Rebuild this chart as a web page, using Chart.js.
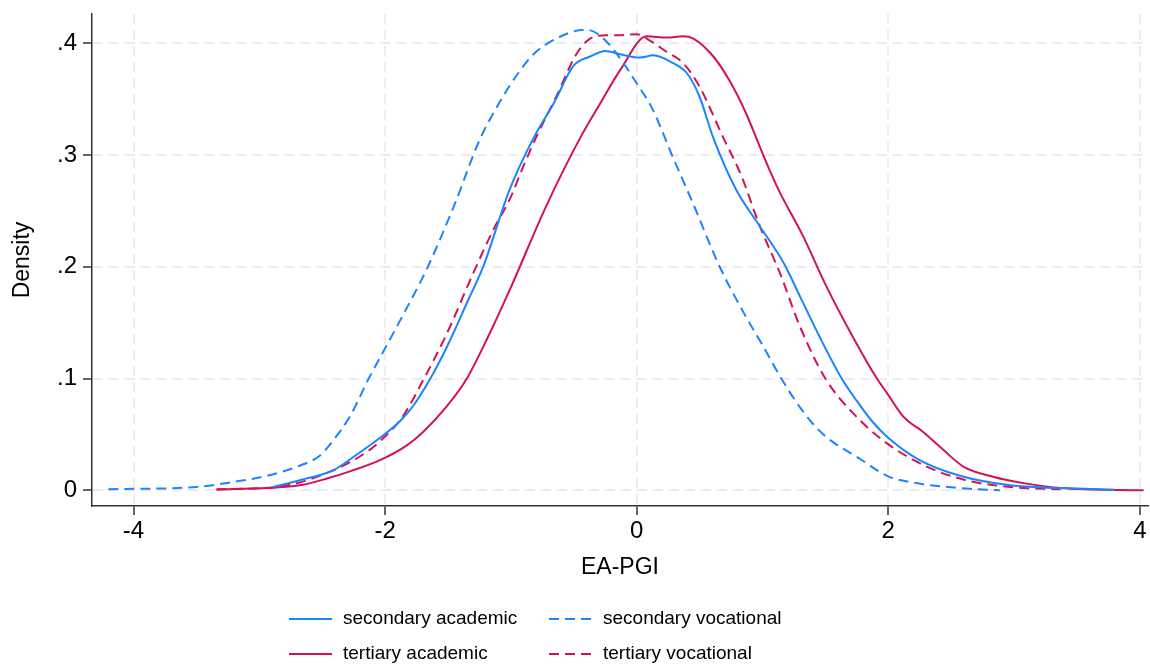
<!DOCTYPE html>
<html>
<head>
<meta charset="utf-8">
<script src="https://cdn.jsdelivr.net/npm/chart.js@4.4.1/dist/chart.umd.min.js"></script>
<style>
  html, body { margin: 0; padding: 0; background: #fff; }
</style>
</head>
<body>
<canvas id="myChart" width="1150" height="670"></canvas>
<script>
// Density curves (x = EA-PGI, y = density)
var saX = [-2.89, -2.68, -2.41, -2.25, -2.04, -1.88, -1.78, -1.64, -1.51, -1.34, -1.22, -1.01, -0.82, -0.66, -0.50, -0.37, -0.25, -0.13, 0.03, 0.13, 0.29, 0.40, 0.50, 0.61, 0.79, 0.98, 1.17, 1.30, 1.46, 1.63, 1.75, 1.87, 1.99, 2.25, 2.57, 2.97, 3.37, 3.80];
var saY = [0.003, 0.009, 0.018, 0.030, 0.047, 0.062, 0.075, 0.100, 0.128, 0.170, 0.200, 0.269, 0.315, 0.346, 0.380, 0.388, 0.393, 0.390, 0.387, 0.389, 0.382, 0.373, 0.352, 0.315, 0.269, 0.236, 0.203, 0.173, 0.136, 0.100, 0.080, 0.062, 0.048, 0.027, 0.013, 0.0045, 0.002, 0.0005];

var svX = [-4.20, -3.50, -3.21, -2.94, -2.68, -2.52, -2.41, -2.28, -2.13, -2.00, -1.88, -1.66, -1.45, -1.25, -1.09, -0.93, -0.82, -0.64, -0.41, -0.32, -0.19, 0.00, 0.13, 0.28, 0.45, 0.66, 0.87, 1.00, 1.15, 1.30, 1.43, 1.55, 1.75, 1.99, 2.17, 2.57, 2.89];
var svY = [0.001, 0.003, 0.0075, 0.013, 0.022, 0.031, 0.045, 0.066, 0.100, 0.127, 0.152, 0.200, 0.255, 0.313, 0.347, 0.375, 0.390, 0.404, 0.412, 0.409, 0.395, 0.364, 0.340, 0.300, 0.256, 0.200, 0.155, 0.130, 0.100, 0.074, 0.056, 0.044, 0.030, 0.013, 0.0075, 0.002, 0.000];

var taX = [-3.34, -2.68, -2.45, -2.28, -2.04, -1.83, -1.70, -1.51, -1.35, -1.17, -1.01, -0.72, -0.45, -0.29, -0.13, 0.08, 0.24, 0.37, 0.45, 0.61, 0.74, 0.87, 0.98, 1.07, 1.14, 1.32, 1.51, 1.72, 1.91, 1.99, 2.12, 2.28, 2.44, 2.60, 2.84, 3.10, 3.37, 4.03];
var taY = [0.0006, 0.0045, 0.011, 0.017, 0.027, 0.040, 0.052, 0.075, 0.100, 0.140, 0.179, 0.254, 0.315, 0.346, 0.376, 0.406, 0.405, 0.406, 0.404, 0.388, 0.366, 0.337, 0.307, 0.283, 0.266, 0.228, 0.182, 0.137, 0.100, 0.087, 0.066, 0.052, 0.036, 0.021, 0.012, 0.006, 0.002, 0.000];

var tvX = [-3.34, -2.86, -2.41, -2.15, -2.04, -1.86, -1.70, -1.51, -1.30, -1.14, -1.01, -0.90, -0.79, -0.64, -0.48, -0.37, -0.24, -0.13, 0.00, 0.08, 0.24, 0.37, 0.50, 0.69, 0.83, 0.98, 1.14, 1.30, 1.50, 1.72, 1.99, 2.31, 2.62, 2.97, 3.37];
var tvY = [0.001, 0.003, 0.018, 0.034, 0.044, 0.066, 0.098, 0.140, 0.194, 0.233, 0.260, 0.290, 0.318, 0.352, 0.390, 0.404, 0.407, 0.407, 0.408, 0.404, 0.392, 0.382, 0.361, 0.315, 0.282, 0.236, 0.194, 0.146, 0.100, 0.069, 0.042, 0.021, 0.009, 0.003, 0.001];

var seriesLabels = ['secondary academic', 'secondary vocational', 'tertiary academic', 'tertiary vocational'];
var xTicks = [-4, -2, 0, 2, 4];
var yTicks = [0, 0.1, 0.2, 0.3, 0.4];

var blue = '#1A85FF';
var red = '#D41159';
var font = 'Liberation Sans, Arial, Helvetica, sans-serif';

function pts(xs, ys) {
  return xs.map(function (x, i) { return { x: x, y: ys[i] }; });
}

function curve(label, xs, ys, color, dashed) {
  return {
    label: label,
    data: pts(xs, ys),
    borderColor: color,
    backgroundColor: color,
    borderWidth: 2,
    borderDash: dashed ? [10, 6] : [],
    pointRadius: 0,
    fill: false,
    cubicInterpolationMode: 'monotone'
  };
}

var data = {
  datasets: [
    curve(seriesLabels[0], saX, saY, blue, false),
    curve(seriesLabels[1], svX, svY, blue, true),
    curve(seriesLabels[2], taX, taY, red, false),
    curve(seriesLabels[3], tvX, tvY, red, true)
  ]
};

// 2x2 legend under the axis title
var gridLegend = {
  id: 'gridLegend',
  afterDraw: function (chart) {
    var ctx = chart.ctx;
    var cols = [289, 549];
    var rows = [619, 654];
    ctx.save();
    chart.data.datasets.forEach(function (ds, i) {
      var x = cols[i % 2];
      var y = rows[Math.floor(i / 2)];
      ctx.strokeStyle = ds.borderColor;
      ctx.lineWidth = 2;
      ctx.setLineDash(ds.borderDash);
      ctx.beginPath();
      ctx.moveTo(x, y);
      ctx.lineTo(x + 43, y);
      ctx.stroke();
      ctx.setLineDash([]);
      ctx.fillStyle = '#000';
      ctx.font = '19px ' + font;
      ctx.textBaseline = 'middle';
      ctx.textAlign = 'left';
      ctx.fillText(ds.label, x + 54, y);
    });
    ctx.restore();
  }
};

var gridStyle = {
  color: '#ececec',
  lineWidth: 2,
  tickLength: 9,
  tickColor: '#333',
  tickWidth: 1.5
};
var borderStyle = { display: true, color: '#333', width: 1.5, dash: [10, 6] };

var config = {
  type: 'line',
  data: data,
  plugins: [gridLegend],
  options: {
    responsive: false,
    animation: false,
    layout: { padding: { top: 14, right: 2, bottom: 80, left: 0 } },
    plugins: {
      legend: { display: false },
      tooltip: { enabled: false }
    },
    scales: {
      x: {
        type: 'linear',
        min: -4.33,
        max: 4.065,
        afterBuildTicks: function (s) { s.ticks = xTicks.map(function (v) { return { value: v }; }); },
        afterFit: function (s) { s.height = 84; s.paddingLeft = 0; s.paddingRight = 0; },
        ticks: {
          font: { family: font, size: 24 },
          color: '#000',
          padding: 2,
          maxRotation: 0,
          callback: function (v) { return String(v); }
        },
        grid: gridStyle,
        border: borderStyle,
        title: {
          display: true,
          text: 'EA-PGI',
          font: { family: font, size: 23 },
          color: '#000',
          padding: { top: 0, bottom: 9 }
        }
      },
      y: {
        min: -0.014,
        max: 0.426,
        afterBuildTicks: function (s) { s.ticks = yTicks.map(function (v) { return { value: v }; }); },
        afterFit: function (s) { s.width = 92; s.paddingTop = 0; s.paddingBottom = 0; },
        ticks: {
          font: { family: font, size: 24 },
          color: '#000',
          padding: 6,
          callback: function (v) { return v === 0 ? '0' : v.toFixed(1).replace(/^0/, ''); }
        },
        grid: gridStyle,
        border: borderStyle,
        title: {
          display: true,
          text: 'Density',
          font: { family: font, size: 23 },
          color: '#000',
          padding: { top: 9, bottom: 0 }
        }
      }
    }
  }
};

var myChart = new Chart(document.getElementById('myChart').getContext('2d'), config);
</script>
</body>
</html>
